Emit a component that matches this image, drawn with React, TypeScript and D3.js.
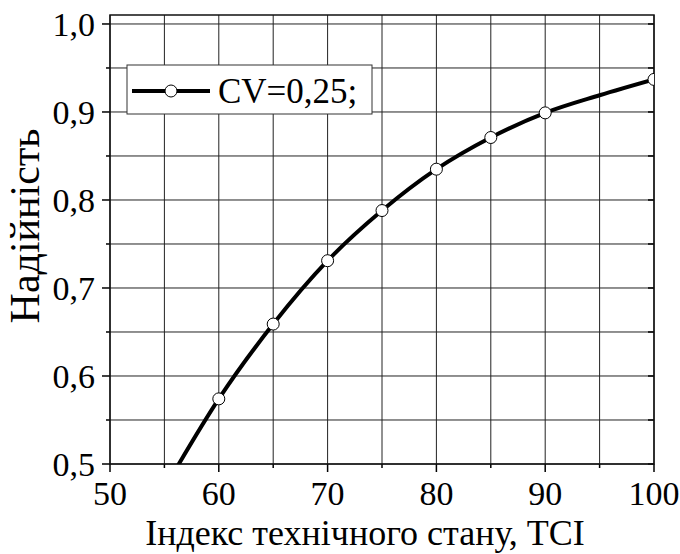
import React from "react";
import * as d3 from "d3";

const xValues = [55, 60, 65, 70, 75, 80, 85, 90, 95, 100];
const reliability = [0.472, 0.574, 0.659, 0.731, 0.788, 0.835, 0.871, 0.899, 0.919, 0.937];
const markerX = [60, 65, 70, 75, 80, 85, 90, 100];
const xTicks = [50, 60, 70, 80, 90, 100];
const xMinorTicks = [55, 65, 75, 85, 95];
const yTicks = [0.5, 0.6, 0.7, 0.8, 0.9, 1.0];
const yMinorTicks = [0.55, 0.65, 0.75, 0.85, 0.95];
const xTitle = "Індекс технічного стану, TCI";
const yTitle = "Надійність";
const legendLabel = "CV=0,25;";

const W = 680;
const H = 554;
const M = { left: 110, right: 654, top: 15, bottom: 464 };
const FONT = "Liberation Serif, DejaVu Serif, serif";
const tickStyle: React.CSSProperties = { fontFamily: FONT, fontSize: "34px" };
const titleStyle: React.CSSProperties = { fontFamily: FONT, fontSize: "36px" };
const yTitleStyle: React.CSSProperties = { fontFamily: FONT, fontSize: "42px" };
const legendStyle: React.CSSProperties = { fontFamily: FONT, fontSize: "35px" };

export default function App() {
  const x = d3.scaleLinear().domain([50, 100]).range([M.left, M.right]);
  const y = d3.scaleLinear().domain([0.5, 1.0102]).range([M.bottom, M.top]);
  const data = xValues.map((v, i) => ({ x: v, y: reliability[i] }));
  const markers = data.filter((d) => markerX.includes(d.x));
  const line = d3
    .line<{ x: number; y: number }>()
    .x((d) => x(d.x))
    .y((d) => y(d.y))
    .curve(d3.curveMonotoneX);
  const gridX = [...xTicks, ...xMinorTicks];
  const gridY = [...yTicks, ...yMinorTicks];
  const fmt = (v: number) => v.toFixed(1).replace(".", ",");
  const gridColor = "#222";

  return (
    <svg
      width={W}
      height={H}
      style={{ position: "absolute", left: 0, top: 0, display: "block", background: "#fff", fontFamily: FONT }}
    >
      <defs>
        <clipPath id="plot">
          <rect x={M.left} y={M.top} width={M.right - M.left} height={M.bottom - M.top} />
        </clipPath>
      </defs>
      {gridX.map((v) => (
        <line key={"gx" + v} x1={x(v)} x2={x(v)} y1={M.top} y2={M.bottom} stroke={gridColor} strokeWidth={1} />
      ))}
      {gridY.map((v) => (
        <line key={"gy" + v} x1={M.left} x2={M.right} y1={y(v)} y2={y(v)} stroke={gridColor} strokeWidth={1} />
      ))}
      {yTicks.map((v) => (
        <line key={"ty" + v} x1={M.left - 8} x2={M.left} y1={y(v)} y2={y(v)} stroke="#000" strokeWidth={1.5} />
      ))}
      {yMinorTicks.map((v) => (
        <line key={"tym" + v} x1={M.left - 4} x2={M.left} y1={y(v)} y2={y(v)} stroke="#000" strokeWidth={1.5} />
      ))}
      {gridY.map((v) => (
        <line key={"tyr" + v} x1={M.right - 6} x2={M.right} y1={y(v)} y2={y(v)} stroke="#000" strokeWidth={1.5} />
      ))}
      {xTicks.map((v) => (
        <line key={"tx" + v} x1={x(v)} x2={x(v)} y1={M.bottom} y2={M.bottom + 8} stroke="#000" strokeWidth={1.5} />
      ))}
      {xMinorTicks.map((v) => (
        <line key={"txm" + v} x1={x(v)} x2={x(v)} y1={M.bottom} y2={M.bottom + 4} stroke="#000" strokeWidth={1.5} />
      ))}
      <rect
        x={M.left}
        y={M.top}
        width={M.right - M.left}
        height={M.bottom - M.top}
        fill="none"
        stroke="#111"
        strokeWidth={1.5}
      />
      <g clipPath="url(#plot)">
        <path d={line(data) || ""} fill="none" stroke="#000" strokeWidth={4} />
        {markers.map((d) => (
          <circle key={"m" + d.x} cx={x(d.x)} cy={y(d.y)} r={6} fill="#fff" stroke="#000" strokeWidth={1} />
        ))}
      </g>
      {yTicks.map((v) => (
        <text key={"ly" + v} x={M.left - 15} y={y(v)} dy="0.34em" textAnchor="end" style={tickStyle} fill="#000">
          {fmt(v)}
        </text>
      ))}
      {xTicks.map((v) => (
        <text key={"lx" + v} x={x(v)} y={505} textAnchor="middle" style={tickStyle} fill="#000">
          {v}
        </text>
      ))}
      <text x={365} y={545} textAnchor="middle" style={titleStyle} fill="#000">
        {xTitle}
      </text>
      <text transform={`translate(39, 226) rotate(-90)`} textAnchor="middle" style={yTitleStyle} fill="#000">
        {yTitle}
      </text>
      <g>
        <rect x={127} y={65} width={245} height={49} fill="#fff" stroke="#333" strokeWidth={1} />
        <line x1={132} x2={210} y1={91} y2={91} stroke="#000" strokeWidth={4} />
        <circle cx={171} cy={91} r={6} fill="#fff" stroke="#000" strokeWidth={1} />
        <text x={218} y={103} style={legendStyle} fill="#000">
          {legendLabel}
        </text>
      </g>
    </svg>
  );
}
